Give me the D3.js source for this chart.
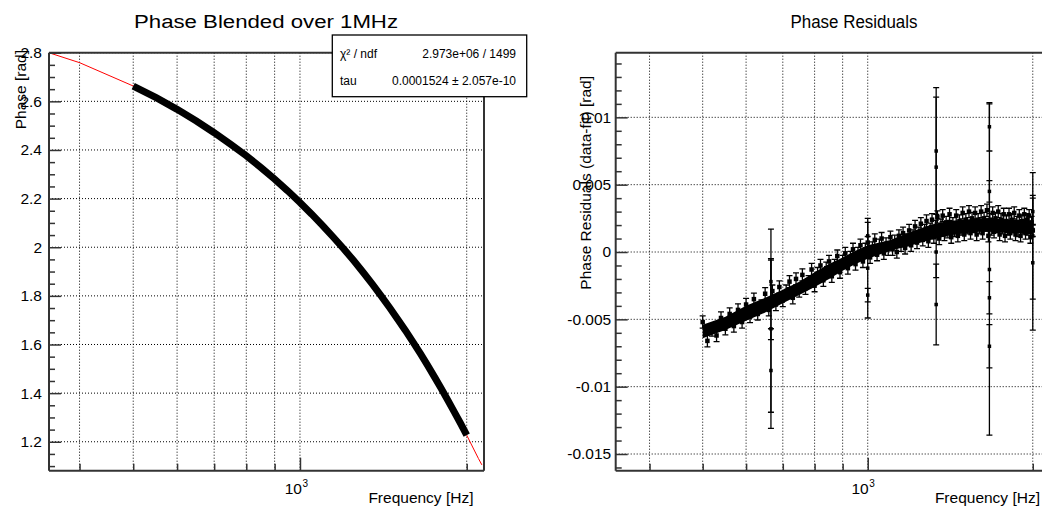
<!DOCTYPE html>
<html><head><meta charset="utf-8">
<script src="https://cdn.jsdelivr.net/npm/d3@7"></script>
<style>
body{margin:0;background:#fff}
svg{display:block}
text{font-family:"Liberation Sans",Arial,Helvetica,sans-serif;fill:#000}
</style>
</head><body>
<svg id="c" width="1042" height="510"></svg>
<script>
// ---------------- data ----------------
const phaseFreq = [500,550,600,650,700,750,800,850,900,950,1000,1050,1100,1150,1200,1250,1300,1350,1400,1450,1500,1550,1600,1650,1700,1750,1800,1850,1900,1950,2000];
const phaseData = [2.663,2.615,2.567,2.519,2.471,2.423,2.376,2.328,2.280,2.232,2.184,2.136,2.088,2.040,1.993,1.945,1.897,1.849,1.801,1.753,1.705,1.658,1.610,1.562,1.514,1.466,1.418,1.370,1.322,1.275,1.227];

const fitFreq  = [352,400,500,600,700,800,900,1000,1100,1200,1300,1400,1500,1600,1700,1800,1900,2000,2100,2130];
const fitPhase = [2.800,2.759,2.663,2.567,2.471,2.376,2.280,2.184,2.088,1.993,1.897,1.801,1.705,1.610,1.514,1.418,1.322,1.227,1.131,1.105];

const resFreq = [500,510,520,530,540,550,560,570,580,590,600,610,620,630,640,650,660,670,680,690,700,710,720,730,740,750,760,770,780,790,800,810,820,830,840,850,860,870,880,890,900,910,920,930,940,950,960,970,980,990,1000,1010,1020,1030,1040,1050,1060,1070,1080,1090,1100,1110,1120,1130,1140,1150,1160,1170,1180,1190,1200,1210,1220,1230,1240,1250,1260,1270,1280,1290,1300,1310,1320,1330,1340,1350,1360,1370,1380,1390,1400,1410,1420,1430,1440,1450,1460,1470,1480,1490,1500,1510,1520,1530,1540,1550,1560,1570,1580,1590,1600,1610,1620,1630,1640,1650,1660,1670,1680,1690,1700,1710,1720,1730,1740,1750,1760,1770,1780,1790,1800,1810,1820,1830,1840,1850,1860,1870,1880,1890,1900,1910,1920,1930,1940,1950,1960,1970,1980,1990,2000];
const resValue = [-0.0052,-0.0066,-0.0058,-0.0062,-0.0049,-0.0057,-0.0046,-0.0055,-0.0043,-0.0052,
 -0.0039,-0.0048,-0.0035,-0.0046,-0.0040,-0.0031,-0.0043,-0.0029,-0.0039,-0.0026,
 -0.0036,-0.0029,-0.0022,-0.0034,-0.0020,-0.0029,-0.0017,-0.0027,-0.0022,-0.0013,
 -0.0025,-0.0016,-0.0010,-0.0021,-0.0012,-0.0007,-0.0018,-0.0010,-0.0003,-0.0015,
 -0.0007,-0.0001,-0.0012,-0.0004,0.0002,-0.0009,-0.0001,0.0005,-0.0007,0.0002,
 0.0007,-0.0004,0.0003,0.0009,-0.0002,0.0005,0.0010,-0.0001,0.0006,0.0002,
 0.0011,0.0002,0.0008,0.0000,0.0012,0.0005,0.0014,0.0003,0.0009,0.0016,
 0.0005,0.0012,0.0019,0.0007,0.0014,0.0021,0.0009,0.0016,0.0023,0.0008,
 0.0017,0.0024,0.0011,0.0019,0.0026,0.0010,0.0020,0.0027,0.0013,0.0022,
 0.0015,0.0028,0.0011,0.0021,0.0016,0.0027,0.0012,0.0023,0.0017,0.0029,
 0.0013,0.0024,0.0018,0.0030,0.0014,0.0025,0.0019,0.0029,0.0013,0.0024,
 0.0018,0.0030,0.0014,0.0025,0.0020,0.0031,0.0012,0.0024,0.0017,0.0029,
 0.0015,0.0025,0.0019,0.0030,0.0013,0.0024,0.0018,0.0028,0.0012,0.0023,
 0.0017,0.0028,0.0014,0.0024,0.0019,0.0029,0.0013,0.0022,0.0016,0.0027,
 0.0012,0.0023,0.0018,0.0028,0.0014,0.0024,0.0017,0.0027,0.0011,0.0022,
 0.0016];
const resError = 0.00045;

// solid core of the residual cloud (lower / upper edge)
const bandFreq  = [500,550,600,650,700,750,800,850,900,950,1000,1100,1200,1300,1400,1500,1600,1700,1800,1900,2000];
const bandLow   = [-0.0064,-0.0058,-0.0051,-0.0045,-0.0038,-0.0032,-0.0026,-0.0020,-0.0014,-0.0009,-0.0005,0.0001,0.0005,0.0009,0.0012,0.0014,0.0015,0.0015,0.0014,0.0014,0.0013];
const bandHigh  = [-0.0054,-0.0048,-0.0040,-0.0034,-0.0028,-0.0022,-0.0015,-0.0009,-0.0004,0.0001,0.0005,0.0009,0.0015,0.0020,0.0023,0.0024,0.0025,0.0025,0.0024,0.0024,0.0023];

// points with large errors at the harmonics
const spikeFreq  = [666,666,666,666,1000,1000,1000,1333,1333,1333,1333,1667,1667,1667,1667,1667,2000,2000,2000];
const spikeValue = [-0.0057,-0.0088,-0.0022,-0.0035,-0.0012,-0.0032,0.0012,0.0075,0.0063,-0.0039,0.0000,0.0093,-0.0013,-0.0070,-0.0034,0.0045,0.0012,-0.0008,0.0030];
const spikeError = [0.0074,0.0031,0.0016,0.0030,0.0037,0.0005,0.0010,0.0047,0.0052,0.0030,0.0019,0.0018,0.0123,0.0016,0.0012,0.0008,0.0047,0.0050,0.0010];

const xGridFreqs   = [400,500,600,700,800,900,1000,2000];
const leftYTicks   = [1.2,1.4,1.6,1.8,2.0,2.2,2.4,2.6,2.8];
const leftYLabels  = ["1.2","1.4","1.6","1.8","2","2.2","2.4","2.6","2.8"];
const rightYTicks  = [-0.015,-0.01,-0.005,0,0.005,0.01];
const rightYLabels = ["-0.015","-0.01","-0.005","0","0.005","0.01"];
const statNames  = ["χ² / ndf","tau"];
const statValues = ["2.973e+06 / 1499","0.0001524 ± 2.057e-10"];
const titles = ["Phase Blended over 1MHz","Phase Residuals"];

// ---------------- drawing ----------------
const svg = d3.select("#c");
const FS = 15.5;
const AX = "#333";

function gridAndFrame(g, x, y, fr, yTicks){
  const grid = g.append("g").attr("stroke","#000").attr("stroke-width",1).attr("stroke-dasharray","1,2");
  grid.selectAll("line.v").data(xGridFreqs).join("line")
    .attr("x1",d=>x(d)).attr("x2",d=>x(d)).attr("y1",fr.y0).attr("y2",fr.y1);
  grid.selectAll("line.h").data(yTicks).join("line")
    .attr("x1",fr.x0).attr("x2",fr.x1).attr("y1",d=>y(d)).attr("y2",d=>y(d));
}

function axes(g, x, y, fr, yTicks, yLabels, yMinor, pad, majorX){
  const ay = d3.axisLeft(y).tickValues(yTicks).tickSize(-12).tickPadding(pad)
    .tickFormat((d,i)=>yLabels[i]).tickSizeOuter(0);
  const gy = g.append("g").attr("transform",`translate(${fr.x0},0)`).call(ay);
  gy.select(".domain").remove();
  gy.selectAll("line").attr("stroke",AX).attr("stroke-width",1.5);
  gy.selectAll("text").attr("font-size",FS).attr("font-family",null).attr("fill","#000");
  const am = d3.axisLeft(y).tickValues(yMinor).tickSize(-6).tickFormat("").tickSizeOuter(0);
  const gm = g.append("g").attr("transform",`translate(${fr.x0},0)`).call(am);
  gm.select(".domain").remove();
  gm.selectAll("line").attr("stroke",AX).attr("stroke-width",1.5);
  const ax = d3.axisBottom(x).tickValues(xGridFreqs.filter(d=>d!==1000)).tickSize(-7).tickFormat("").tickSizeOuter(0);
  const gx = g.append("g").attr("transform",`translate(0,${fr.y1})`).call(ax);
  gx.select(".domain").remove();
  gx.selectAll("line").attr("stroke",AX).attr("stroke-width",1.5);
  const ax2 = d3.axisBottom(x).tickValues([1000]).tickSize(-13).tickFormat("").tickSizeOuter(0);
  const gx2 = g.append("g").attr("transform",`translate(0,${fr.y1})`).call(ax2);
  gx2.select(".domain").remove();
  gx2.selectAll("line").attr("stroke",AX).attr("stroke-width",1.5);
  const xl = x(1000)+majorX;
  g.append("text").attr("x",xl).attr("y",fr.y1+23).attr("text-anchor","end").attr("font-size",FS).text("10");
  g.append("text").attr("x",xl+0.5).attr("y",fr.y1+16).attr("text-anchor","start").attr("font-size",10).text("3");
  const fx1 = Math.min(fr.x1, 1045);
  g.append("line").attr("x1",fr.x0).attr("x2",fx1).attr("y1",fr.y0).attr("y2",fr.y0).attr("stroke",AX).attr("stroke-width",2);
  g.append("line").attr("x1",fr.x0).attr("x2",fx1).attr("y1",fr.y1).attr("y2",fr.y1).attr("stroke",AX).attr("stroke-width",2);
  g.append("line").attr("x1",fr.x0).attr("x2",fr.x0).attr("y1",fr.y0).attr("y2",fr.y1).attr("stroke",AX).attr("stroke-width",2);
  g.append("line").attr("x1",fr.x1).attr("x2",fr.x1).attr("y1",fr.y0).attr("y2",fr.y1).attr("stroke",AX).attr("stroke-width",2);
}

// ===== Left panel =====
const FL = {x0:49, x1:484, y0:52.7, y1:470.7};
const xL = d3.scaleLog().domain([352.3, 2149]).range([FL.x0, FL.x1]);
const yL = d3.scaleLinear().domain([1.081, 2.8]).range([FL.y1, FL.y0]);
const gL = svg.append("g");
svg.append("clipPath").attr("id","clipL").append("rect")
  .attr("x",FL.x0).attr("y",FL.y0).attr("width",FL.x1-FL.x0).attr("height",FL.y1-FL.y0);
gridAndFrame(gL, xL, yL, FL, leftYTicks);

const fitLine = d3.line().x((d,i)=>xL(fitFreq[i])).y((d,i)=>yL(fitPhase[i]));
gL.append("path").attr("clip-path","url(#clipL)").attr("d",fitLine(fitFreq))
  .attr("fill","none").attr("stroke","#ff0000").attr("stroke-width",1);
const dataLine = d3.line().x((d,i)=>xL(phaseFreq[i])).y((d,i)=>yL(phaseData[i]));
gL.append("path").attr("d",dataLine(phaseFreq))
  .attr("fill","none").attr("stroke","#000").attr("stroke-width",7).attr("stroke-linecap","butt");

const minorL = d3.range(1.1, 2.8001, 0.05).filter(v=>Math.abs(Math.round(v*5)-v*5)>1e-6);
axes(gL, xL, yL, FL, leftYTicks, leftYLabels, minorL, 7, 2);

gL.append("text").attr("transform","translate(26,50) rotate(-90)").attr("text-anchor","end")
  .attr("font-size",FS).text("Phase [rad]");
gL.append("text").attr("x",473.5).attr("y",503).attr("text-anchor","end").attr("font-size",FS).text("Frequency [Hz]");
gL.append("text").attr("x",266).attr("y",28).attr("text-anchor","middle").attr("font-size",18)
  .attr("textLength",264).attr("lengthAdjust","spacingAndGlyphs").text(titles[0]);

// stats box
const sb = gL.append("g");
sb.append("rect").attr("x",332.3).attr("y",35).attr("width",194.4).attr("height",61.7)
  .attr("fill","#fff").attr("stroke","#000").attr("stroke-width",1.3);
statNames.forEach((n,i)=>{
  const yy = 57.5 + i*27;
  sb.append("text").attr("x",340).attr("y",yy).attr("font-size",12).text(n);
  sb.append("text").attr("x",516).attr("y",yy).attr("text-anchor","end").attr("font-size",12).text(statValues[i]);
});

// ===== Right panel =====
const FR = {x0:615.7, x1:1050, y0:52.7, y1:470.7};
const xR = d3.scaleLog().domain([347, 2150]).range([FR.x0, FR.x1]);
const yR = d3.scaleLinear().domain([-0.01624, 0.0148]).range([FR.y1, FR.y0]);
const gR = svg.append("g");
svg.append("clipPath").attr("id","clipR").append("rect")
  .attr("x",FR.x0).attr("y",FR.y0).attr("width",FR.x1-FR.x0).attr("height",FR.y1-FR.y0);
gridAndFrame(gR, xR, yR, FR, rightYTicks);

const dR = gR.append("g").attr("clip-path","url(#clipR)");
const band = d3.area().x((d,i)=>xR(bandFreq[i])).y0((d,i)=>yR(bandLow[i])).y1((d,i)=>yR(bandHigh[i]));
dR.append("path").attr("d",band(bandFreq)).attr("fill","#000");

function errPoints(freqs, vals, errs, cap, ms){
  const gg = dR.append("g");
  freqs.forEach((f,i)=>{
    const e = Array.isArray(errs)?errs[i]:errs;
    const cx = xR(f), cy = yR(vals[i]), yt = yR(vals[i]+e), yb = yR(vals[i]-e);
    gg.append("line").attr("x1",cx).attr("x2",cx).attr("y1",yt).attr("y2",yb).attr("stroke","#000").attr("stroke-width",1.3);
    gg.append("line").attr("x1",cx-cap).attr("x2",cx+cap).attr("y1",yt).attr("y2",yt).attr("stroke","#000").attr("stroke-width",1.3);
    gg.append("line").attr("x1",cx-cap).attr("x2",cx+cap).attr("y1",yb).attr("y2",yb).attr("stroke","#000").attr("stroke-width",1.3);
    gg.append("rect").attr("x",cx-ms/2).attr("y",cy-ms/2).attr("width",ms).attr("height",ms).attr("fill","#000");
  });
}
errPoints(resFreq, resValue, resError, 3, 4.5);
errPoints(spikeFreq, spikeValue, spikeError, 3, 3.5);

const minorR = d3.range(-0.016, 0.01451, 0.001).filter(v=>Math.abs(Math.round(v*200)-v*200)>1e-6);
axes(gR, xR, yR, FR, rightYTicks, rightYLabels, minorR, 4.5, 1);

gR.append("text").attr("transform","translate(591,76) rotate(-90)").attr("text-anchor","end")
  .attr("font-size",FS).text("Phase Residuals (data-fit) [rad]");
gR.append("text").attr("x",1040).attr("y",503).attr("text-anchor","end").attr("font-size",FS).text("Frequency [Hz]");
gR.append("text").attr("x",854).attr("y",28).attr("text-anchor","middle").attr("font-size",17.5)
  .attr("textLength",127).attr("lengthAdjust","spacingAndGlyphs").text(titles[1]);
</script>
</body></html>
